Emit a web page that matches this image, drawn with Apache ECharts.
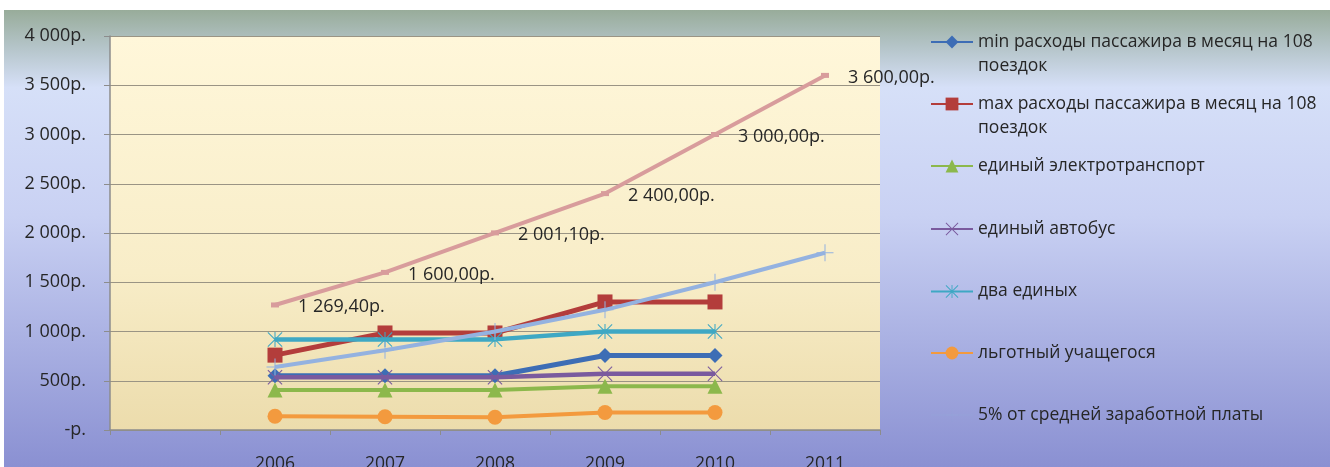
<!DOCTYPE html>
<html>
<head>
<meta charset="utf-8">
<script src="https://cdn.jsdelivr.net/npm/echarts@6/dist/echarts.min.js"></script>
<style>
html,body{margin:0;padding:0;background:#fff;}
#c{width:1330px;height:467px;}
</style>
</head>
<body>
<div id="c"></div>
<script>
var categories = ['', '2006', '2007', '2008', '2009', '2010', '2011'];
var yTicks = [0, 500, 1000, 1500, 2000, 2500, 3000, 3500, 4000];

var names = [
  'min расходы пассажира в месяц на 108 поездок',
  'max расходы пассажира в месяц на 108 поездок',
  'единый электротранспорт',
  'единый автобус',
  'два единых',
  'льготный учащегося',
  '5% от средней заработной платы',
  'средняя заработная плата'
];

var minCost   = [null, 550, 550, 550, 756, 756, null];
var maxCost   = [null, 760, 985, 985, 1300, 1300, null];
var electro   = [null, 405, 405, 405, 445, 445, null];
var bus       = [null, 535, 535, 535, 570, 570, null];
var twoPasses = [null, 920, 920, 920, 1000, 1000, null];
var student   = [null, 140, 135, 130, 178, 178, null];
var fivePct   = [null, 640, 810, 1000, 1220, 1500, 1800];
var salaryRef = [null, 1269.40, 1600.00, 2001.10, 2400.00, 3000.00, 3600.00];

var FONT = 'Open Sans';
var TXT = '#262626';

function fmtThousands(v) {
  var s = String(Math.round(v));
  return s.replace(/\B(?=(\d{3})+(?!\d))/g, ' ');
}
function fmtRub(v) {
  if (v === 0) return '-р.';
  return fmtThousands(v) + 'р.';
}
function fmtRub2(v) {
  var parts = v.toFixed(2).split('.');
  return parts[0].replace(/\B(?=(\d{3})+(?!\d))/g, ' ') + ',' + parts[1] + 'р.';
}

var X_PATH = 'path://M1,0 L10,9 L19,0 L20,1 L11,10 L20,19 L19,20 L10,11 L1,20 L0,19 L9,10 L0,1 Z';
var STAR_PATH = 'path://M1,0 L10,9 L19,0 L20,1 L11,10 L20,19 L19,20 L10,11 L1,20 L0,19 L9,10 L0,1 Z M9.3,0 L10.7,0 L10.7,20 L9.3,20 Z';
var PLUS_PATH = 'path://M9.4,0 H10.6 V9.4 H20 V10.6 H10.6 V20 H9.4 V10.6 H0 V9.4 H9.4 Z';

var colors = ['#3d6db5', '#b33d3b', '#8cb84c', '#7a5a9e', '#3ea8c4', '#f39a3e', '#94b2e0', '#d89c9c'];

function lineSeries(idx, data, symbol, size, width, extra) {
  var s = {
    name: names[idx],
    type: 'line',
    data: data,
    symbol: symbol,
    symbolSize: size,
    showAllSymbol: true,
    connectNulls: false,
    lineStyle: { color: colors[idx], width: width },
    itemStyle: { color: colors[idx] },
    emphasis: { disabled: true },
    z: 2 + idx
  };
  if (extra) for (var k in extra) s[k] = extra[k];
  return s;
}

var series = [
  lineSeries(0, minCost, 'diamond', 15, 5),
  lineSeries(1, maxCost, 'rect', 15, 5),
  lineSeries(2, electro, 'triangle', 15, 4),
  lineSeries(3, bus, X_PATH, 15, 4.5),
  lineSeries(4, twoPasses, STAR_PATH, 15, 4.5),
  lineSeries(5, student, 'circle', 15, 4),
  lineSeries(6, fivePct, PLUS_PATH, 17, 4),
  lineSeries(7, salaryRef, 'rect', [8, 5], 4, {
    label: {
      show: true,
      position: 'right',
      distance: 19,
      offset: [0, 2],
      color: TXT,
      fontFamily: FONT,
      fontSize: 18,
      formatter: function (p) { return fmtRub2(p.value); }
    }
  })
];

// legend entries (first seven series); icon centres
var legendTexts = [
  '\nmin расходы пассажира в месяц на 108\nпоездок',
  '\nmax расходы пассажира в месяц на 108\nпоездок',
  'единый электротранспорт',
  'единый автобус',
  'два единых',
  'льготный учащегося',
  '5% от средней заработной платы'
];
var legendCenters = [42, 104, 166, 229, 291.5, 353, 415];

var legends = legendTexts.map(function (t, i) {
  var multi = t.indexOf('\n') === 0;
  var item = { name: names[i] };
  if (i === 6) {
    item.itemStyle = { opacity: 0.12 };
    item.lineStyle = { opacity: 0.12 };
  }
  return {
    show: true,
    orient: 'vertical',
    left: 930,
    top: legendCenters[i] - (multi ? 36 : 12),
    padding: 0,
    itemWidth: 42,
    itemHeight: 16,
    selectedMode: false,
    data: [item],
    formatter: function () { return t; },
    textStyle: { color: TXT, fontFamily: FONT, fontSize: 17.5, lineHeight: 24 }
  };
});

var chart = echarts.init(document.getElementById('c'), null, { renderer: 'canvas' });
chart.setOption({
  animation: false,
  backgroundColor: '#ffffff',
  graphic: [{
    type: 'rect',
    z: -10,
    silent: true,
    shape: { x: 4, y: 10, width: 1326, height: 457 },
    style: {
      fill: new echarts.graphic.LinearGradient(0, 0, 0, 1, [
        { offset: 0, color: '#98ac9a' },
        { offset: 0.08, color: '#b4c4c8' },
        { offset: 0.17, color: '#d6e0f8' },
        { offset: 0.45, color: '#c9d1f3' },
        { offset: 1, color: '#8a90d2' }
      ])
    }
  }],
  grid: {
    left: 110, top: 36, right: 450, bottom: 37,
    containLabel: false,
    outerBoundsMode: 'none',
    show: true,
    borderWidth: 0,
    backgroundColor: new echarts.graphic.LinearGradient(0, 0, 0, 1, [
      { offset: 0, color: '#fff7da' },
      { offset: 0.6, color: '#f8edc8' },
      { offset: 1, color: '#ecdcac' }
    ])
  },
  legend: legends,
  xAxis: {
    type: 'category',
    data: categories,
    boundaryGap: true,
    axisLine: { lineStyle: { color: '#8c8c8c', width: 1.5 } },
    axisTick: { show: true, length: 5, lineStyle: { color: '#8c8c8c' } },
    axisLabel: { color: TXT, fontFamily: FONT, fontSize: 17.5, margin: 25 },
    splitLine: { show: false }
  },
  yAxis: {
    type: 'value',
    min: yTicks[0],
    max: yTicks[yTicks.length - 1],
    interval: yTicks[1] - yTicks[0],
    axisLine: { show: true, lineStyle: { color: '#8c8c8c', width: 1.5 } },
    axisTick: { show: true, length: 6, lineStyle: { color: '#8c8c8c' } },
    axisLabel: { color: TXT, fontFamily: FONT, fontSize: 18, margin: 24, formatter: fmtRub },
    splitLine: { show: true, lineStyle: { color: '#9a9484', width: 1 } }
  },
  series: series
});
</script>
</body>
</html>
